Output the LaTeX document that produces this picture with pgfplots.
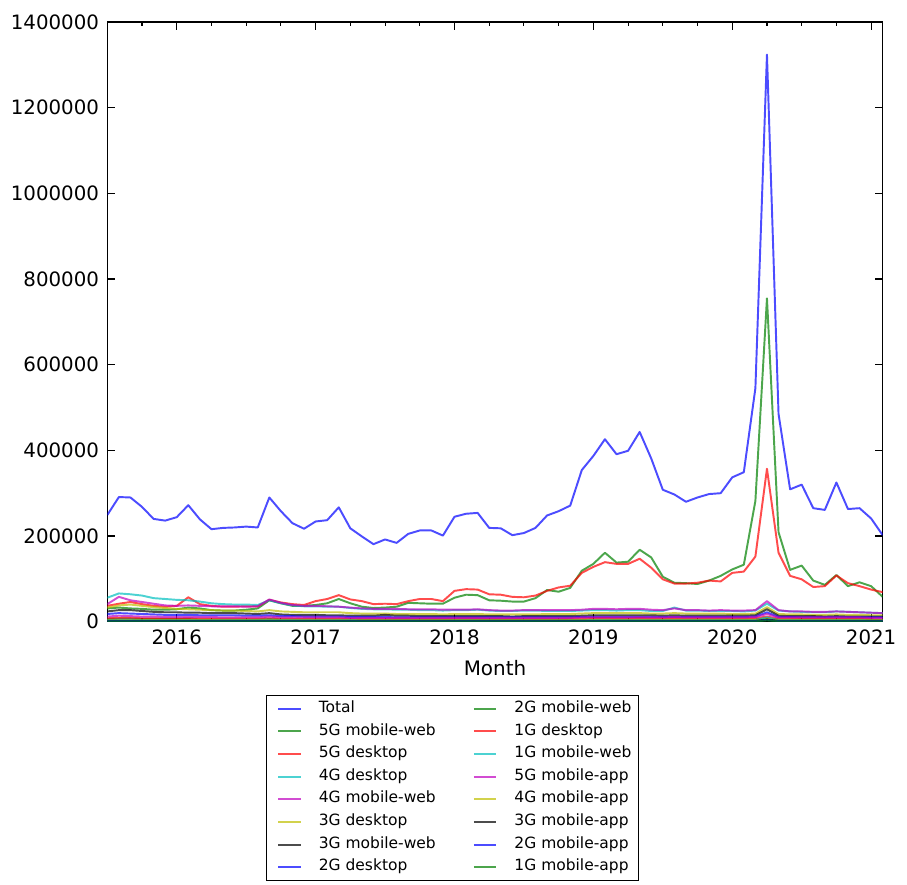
\documentclass[border=0pt]{standalone}
\usepackage{fontspec}
\setmainfont{DejaVu Sans}
\usepackage{pgfplots}
\usepackage{pgfplotstable}
\pgfplotsset{compat=1.18}
\definecolor{cb}{rgb}{0,0,1}
\definecolor{cg}{rgb}{0,0.5,0}
\definecolor{cr}{rgb}{1,0,0}
\definecolor{cc}{rgb}{0,0.75,0.75}
\definecolor{cm}{rgb}{0.75,0,0.75}
\definecolor{cy}{rgb}{0.75,0.75,0}
\definecolor{ck}{rgb}{0,0,0}
\pgfplotstableread{
i T G5 R5 C4 M4 Y3 K3 B2 G2 R1 C1 M5a Y4a K3a B2a G1a
0 249000 31000 37000 56000 41000 33000 24000 18000 6000 8000 4000 12000 3000 2000 1500 800
1 291000 33000 42000 66000 58000 38000 27000 20000 7000 9000 5000 14000 3000 2000 1500 800
2 290000 31000 46000 64000 50000 40000 27000 19000 7000 9000 5000 13000 3000 2000 1500 800
3 268000 30000 41000 61000 46000 37000 25000 18000 6000 8000 4000 12000 3000 2000 1500 800
4 240000 28000 37000 55000 42000 34000 23000 17000 6000 8000 4000 12000 3000 2000 1500 800
5 236000 28000 35000 53000 38000 32000 22000 16000 6000 7000 4000 11000 3000 2000 1500 800
6 244000 29000 37000 51000 37000 30000 22000 16000 6000 7000 4000 11000 3000 2000 1500 800
7 272000 33000 57000 50000 38000 29000 21000 16000 6000 8000 4000 11000 3000 2000 1500 800
8 239000 31000 41000 47000 37000 28000 21000 15000 5000 7000 4000 11000 3000 2000 1500 800
9 216000 27000 37000 43000 36000 27000 20000 15000 5000 7000 4000 11000 3000 2000 1500 800
10 219000 26000 35000 41000 36000 26000 20000 15000 5000 7000 4000 10000 3000 2000 1500 800
11 220000 26000 35000 40000 36000 26000 20000 15000 5000 7000 4000 10000 3000 2000 1500 800
12 222000 28000 36000 40000 35000 25000 19000 14000 5000 7000 4000 10000 3000 2000 1500 800
13 220000 31000 36000 39000 36000 24000 18000 14000 5000 7000 4000 10000 3000 2000 1500 800
14 290000 50000 51000 50000 52000 27000 20000 15000 6000 8000 5000 12000 3000 2000 1500 800
15 258000 43000 45000 43000 44000 24000 17000 13000 5000 7000 4000 10000 3000 2000 1500 800
16 230000 37000 41000 38000 39000 23000 16000 13000 5000 7000 4000 10000 3000 2000 1500 800
17 217000 37000 39000 36000 37000 22000 16000 12000 5000 6000 4000 10000 3000 2000 1500 800
18 234000 39000 48000 36000 37000 22000 16000 12000 5000 6000 4000 10000 3000 2000 1500 800
19 237000 43000 53000 35000 36000 22000 15000 12000 5000 6000 4000 10000 3000 2000 1500 800
20 267000 53000 62000 35000 35000 22000 15000 12000 5000 7000 4000 10000 3000 2000 1500 800
21 218000 43000 52000 32000 33000 20000 14000 11000 5000 6000 4000 9000 3000 2000 1500 800
22 199000 35000 48000 30000 31000 19000 14000 11000 4000 6000 3000 9000 3000 2000 1500 800
23 181000 32000 41000 29000 30000 19000 14000 11000 4000 6000 3000 9000 3000 2000 1500 800
24 192000 33000 42000 29000 30000 19000 16000 11000 4000 6000 3000 9000 3000 2000 1500 800
25 184000 35000 41000 28000 30000 18000 14000 10000 4000 6000 3000 9000 3000 2000 1500 800
26 205000 44000 48000 28000 29000 18000 14000 10000 4000 6000 3000 9000 3000 2000 1500 800
27 213000 43000 53000 27000 29000 18000 13000 10000 4000 6000 3000 9000 3000 2000 1500 800
28 213000 42000 53000 27000 29000 18000 13000 10000 4000 6000 3000 9000 3000 2000 1500 800
29 201000 42000 48000 26000 28000 17000 13000 10000 4000 6000 3000 9000 3000 2000 1500 800
30 245000 56000 72000 27000 28000 18000 13000 10000 4000 7000 3000 9000 3000 2000 1500 800
31 252000 63000 76000 27000 28000 18000 13000 10000 4000 7000 3000 9000 3000 2000 1500 800
32 254000 62000 75000 28000 29000 18000 13000 10000 4000 7000 3000 9000 3000 2000 1500 800
33 219000 50000 64000 26000 27000 17000 13000 10000 4000 6000 3000 9000 3000 2000 1500 800
34 218000 49000 63000 25000 26000 17000 13000 10000 4000 6000 3000 9000 3000 2000 1500 800
35 202000 47000 58000 25000 26000 17000 12000 10000 4000 6000 3000 9000 3000 2000 1500 800
36 207000 47000 57000 26000 27000 17000 13000 10000 4000 6000 3000 9000 3000 2000 1500 800
37 219000 55000 61000 26000 27000 17000 13000 10000 4000 6000 3000 9000 3000 2000 1500 800
38 248000 74000 72000 25000 27000 18000 13000 10000 4000 6000 3000 9000 3000 2000 1500 800
39 258000 70000 80000 25000 27000 18000 13000 10000 4000 6000 3000 9000 3000 2000 1500 800
40 271000 79000 84000 25000 27000 18000 13000 10000 4000 7000 3000 9000 3000 2000 1500 800
41 354000 119000 114000 26000 28000 19000 14000 11000 4000 7000 3000 10000 3000 2000 1500 800
42 387000 135000 128000 27000 30000 20000 15000 11000 5000 8000 4000 10000 3000 2000 1500 800
43 426000 161000 139000 27000 30000 20000 15000 11000 5000 8000 4000 10000 3000 2000 1500 800
44 391000 138000 135000 26000 29000 20000 15000 11000 5000 7000 4000 10000 3000 2000 1500 800
45 399000 140000 135000 27000 30000 20000 15000 11000 5000 7000 4000 10000 3000 2000 1500 800
46 443000 168000 147000 27000 30000 20000 15000 11000 5000 8000 4000 10000 3000 2000 1500 800
47 381000 150000 126000 25000 28000 19000 15000 11000 5000 7000 4000 10000 3000 2000 1500 800
48 308000 105000 99000 25000 27000 19000 14000 11000 5000 7000 4000 10000 3000 2000 1500 800
49 297000 91000 89000 33000 31000 20000 15000 11000 5000 7000 4000 11000 3000 2000 1500 800
50 280000 90000 89000 26000 27000 19000 14000 11000 5000 7000 4000 10000 3000 2000 1500 800
51 290000 88000 91000 26000 27000 19000 14000 11000 5000 7000 4000 10000 3000 2000 1500 800
52 298000 96000 96000 25000 26000 19000 14000 11000 5000 7000 4000 10000 3000 2000 1500 800
53 300000 107000 94000 25000 27000 19000 14000 11000 5000 7000 4000 10000 3000 2000 1500 800
54 337000 122000 114000 25000 26000 18000 14000 11000 5000 7000 4000 10000 3000 2000 1500 800
55 349000 133000 117000 24000 26000 18000 14000 11000 5000 7000 4000 10000 3000 2000 1500 800
56 545000 282000 152000 26000 27000 19000 15000 12000 5000 8000 4000 11000 3000 2000 1500 800
57 1324000 755000 357000 42000 48000 34000 29000 22000 8000 12000 10000 18000 6000 5000 4000 3000
58 485000 209000 161000 26000 27000 18000 14000 11000 5000 7000 4000 10000 3000 2000 1500 800
59 309000 121000 107000 24000 24000 17000 13000 11000 5000 7000 4000 10000 3000 2000 1500 800
60 320000 131000 99000 23000 24000 17000 13000 10000 5000 7000 4000 10000 3000 2000 1500 800
61 265000 96000 81000 22000 23000 16000 13000 10000 5000 6000 4000 10000 3000 2000 1500 800
62 261000 86000 83000 22000 23000 16000 12000 10000 5000 6000 4000 10000 3000 2000 1500 800
63 325000 109000 108000 24000 24000 17000 13000 10000 5000 7000 4000 10000 3000 2000 1500 800
64 263000 83000 90000 23000 23000 16000 12000 10000 5000 6000 4000 10000 3000 2000 1500 800
65 265000 92000 83000 22000 22000 16000 12000 10000 5000 6000 4000 10000 3000 2000 1500 800
66 241000 83000 75000 21000 21000 15000 12000 10000 4000 6000 3000 9000 3000 2000 1500 800
67 202000 58000 69000 20000 20000 15000 12000 10000 4000 5000 3000 9000 3000 2000 1500 800
}\data
\pgfplotsset{
  ser/.style={color=#1, line width=1.4pt, opacity=0.7, line join=round},
}
\begin{document}
\begin{tikzpicture}
\useasboundingbox (-1.073in,-2.633in) rectangle (7.997in,6.217in);
\begin{axis}[
  scale only axis, width=7.754in, height=5.997in,
  at={(0,0)}, anchor=south west,
  xmin=0, xmax=67, ymin=0, ymax=1400000,
  xtick={6,18,30,42,54,66},
  xticklabels={2016,2017,2018,2019,2020,2021},
  minor xtick={0,3,...,66},
  ytick={0,200000,400000,600000,800000,1000000,1200000,1400000},
  scaled y ticks=false,
  /pgf/number format/assume math mode=true,
  yticklabel style={/pgf/number format/fixed, /pgf/number format/1000 sep={}, inner sep=0pt, xshift=-0.08in},
  xticklabel style={inner sep=0pt, yshift=-0.08in},
  ticklabel style={font=\fontsize{14.3}{17}\selectfont},
  tick align=inside,
  major tick length=0.08in, minor tick length=0.04in,
  tick style={black, line width=0.8pt},
  axis line style={line width=1pt},
  xlabel={Month},
  xlabel style={at={(axis description cs:0.5,0)}, anchor=north, inner sep=0pt, yshift=-0.383in, font=\fontsize{14.4}{17}\selectfont},
  legend columns=2,
  legend cell align=left,
  legend image code/.code={\path (0in,0in) (0.256in,0in); \draw[#1] (0.032in,0in) -- (0.256in,0in);},
  legend style={at={(axis description cs:0.4455,-0.1222)}, anchor=north, draw=black, line width=0.6pt,
    inner xsep=0.074in, inner ysep=0.065in, font=\fontsize{11.2}{13}\selectfont,
    row sep=0.088in, column sep=0pt,
    nodes={inner sep=0pt, text height=0.76em, text depth=0.24em},
    /tikz/every odd column/.append style={column sep=0.173in},
    /tikz/every even column/.append style={column sep=0.338in}},
]
\addplot[ser=cb, forget plot] table[x=i, y=T]{\data};
\addplot[ser=cg, forget plot] table[x=i, y=G5]{\data};
\addplot[ser=cr, forget plot] table[x=i, y=R5]{\data};
\addplot[ser=cc, forget plot] table[x=i, y=C4]{\data};
\addplot[ser=cm, forget plot] table[x=i, y=M4]{\data};
\addplot[ser=cy, forget plot] table[x=i, y=Y3]{\data};
\addplot[ser=ck, forget plot] table[x=i, y=K3]{\data};
\addplot[ser=cb, forget plot] table[x=i, y=B2]{\data};
\addplot[ser=cg, forget plot] table[x=i, y=G2]{\data};
\addplot[ser=cr, forget plot] table[x=i, y=R1]{\data};
\addplot[ser=cc, forget plot] table[x=i, y=C1]{\data};
\addplot[ser=cm, forget plot] table[x=i, y=M5a]{\data};
\addplot[ser=cy, forget plot] table[x=i, y=Y4a]{\data};
\addplot[ser=ck, forget plot] table[x=i, y=K3a]{\data};
\addplot[ser=cb, forget plot] table[x=i, y=B2a]{\data};
\addplot[ser=cg, forget plot] table[x=i, y=G1a]{\data};
\addlegendimage{ser=cb}\addlegendentry{Total}
\addlegendimage{ser=cg}\addlegendentry{2G mobile-web}
\addlegendimage{ser=cg}\addlegendentry{5G mobile-web}
\addlegendimage{ser=cr}\addlegendentry{1G desktop}
\addlegendimage{ser=cr}\addlegendentry{5G desktop}
\addlegendimage{ser=cc}\addlegendentry{1G mobile-web}
\addlegendimage{ser=cc}\addlegendentry{4G desktop}
\addlegendimage{ser=cm}\addlegendentry{5G mobile-app}
\addlegendimage{ser=cm}\addlegendentry{4G mobile-web}
\addlegendimage{ser=cy}\addlegendentry{4G mobile-app}
\addlegendimage{ser=cy}\addlegendentry{3G desktop}
\addlegendimage{ser=ck}\addlegendentry{3G mobile-app}
\addlegendimage{ser=ck}\addlegendentry{3G mobile-web}
\addlegendimage{ser=cb}\addlegendentry{2G mobile-app}
\addlegendimage{ser=cb}\addlegendentry{2G desktop}
\addlegendimage{ser=cg}\addlegendentry{1G mobile-app}
\end{axis}
\end{tikzpicture}
\end{document}
